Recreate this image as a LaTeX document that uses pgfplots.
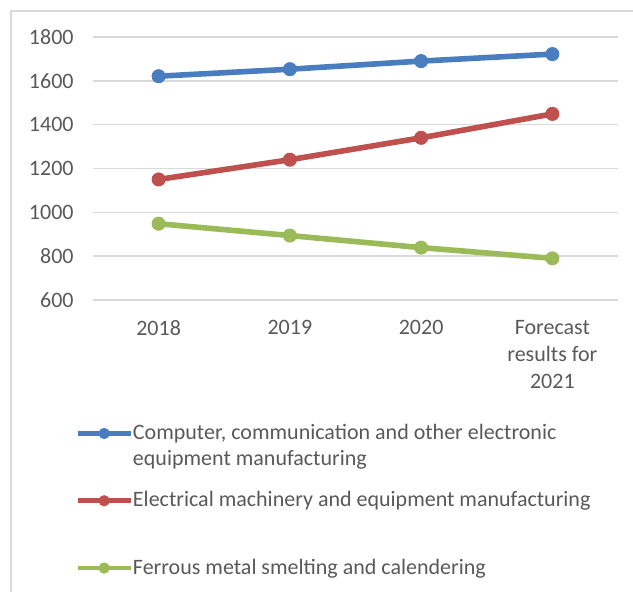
\documentclass[border=0pt]{standalone}
\usepackage{fontspec}
\setmainfont{Carlito}
\usepackage{pgfplots}
\pgfplotsset{compat=1.18}
\definecolor{cblue}{HTML}{4A7DC0}
\definecolor{cred}{HTML}{C0504D}
\definecolor{cgreen}{HTML}{9BBB59}
\definecolor{cgrid}{HTML}{D9D9D9}
\definecolor{ctext}{HTML}{595959}
\begin{document}
\begin{tikzpicture}
\useasboundingbox (0,0) rectangle (316.5pt,296pt);
\draw[cgrid, line width=0.75pt] (5.5pt,-5pt) -- (5.5pt,290.5pt) -- (330pt,290.5pt);
\begin{axis}[
  at={(46.5pt,146pt)}, anchor=south west,
  scale only axis, width=262.5pt, height=131.5pt,
  xmin=-0.5, xmax=3.5, ymin=600, ymax=1800,
  xtick={0,1,2,3}, xticklabels={2018,2019,2020,{Forecast\\results for\\2021}},
  ytick={600,800,...,1800},
  ymajorgrids, grid style={cgrid, line width=0.75pt},
  axis line style={draw=none},
  major tick length=0pt, tick style={draw=none},
  tick label style={font=\fontsize{11}{13.5}\selectfont, text=ctext},
  xticklabel style={align=center, anchor=north, inner sep=0pt, yshift=-10pt},
  yticklabel style={anchor=east, inner sep=0pt, xshift=-9.5pt},
  /pgf/number format/assume math mode=true,
  /pgf/number format/1000 sep={},
  legend cell align=left,
  legend style={at={(axis description cs:-0.0343,-0.4714)}, anchor=north west, draw=none, fill=none, inner sep=0pt, row sep=11.5pt, column sep=0pt, font=\fontsize{11}{13}\selectfont, text=ctext, nodes={inner sep=0pt, align=left}},
  legend image code/.code={\draw[#1, line width=2.3pt, mark size=2.6pt, yshift=6.5pt, mark repeat=2, mark phase=2] plot coordinates {(0pt,0pt) (13.25pt,0pt) (26.5pt,0pt)};},
]
\addplot[cblue, line width=2.8pt, mark=*, mark size=3.3pt, mark options={line width=0.4pt, fill=cblue}] coordinates {(0,1621) (1,1653) (2,1690) (3,1722)};
\addlegendentry{Computer, communication and other electronic\\equipment manufacturing}
\addplot[cred, line width=2.8pt, mark=*, mark size=3.3pt, mark options={line width=0.4pt, fill=cred}] coordinates {(0,1150) (1,1240) (2,1340) (3,1449)};
\addlegendentry{Electrical machinery and equipment manufacturing\\\strut}
\addplot[cgreen, line width=2.8pt, mark=*, mark size=3.3pt, mark options={line width=0.4pt, fill=cgreen}] coordinates {(0,948) (1,894) (2,839) (3,790)};
\addlegendentry{Ferrous metal smelting and calendering\\\strut}
\end{axis}
\end{tikzpicture}
\end{document}
